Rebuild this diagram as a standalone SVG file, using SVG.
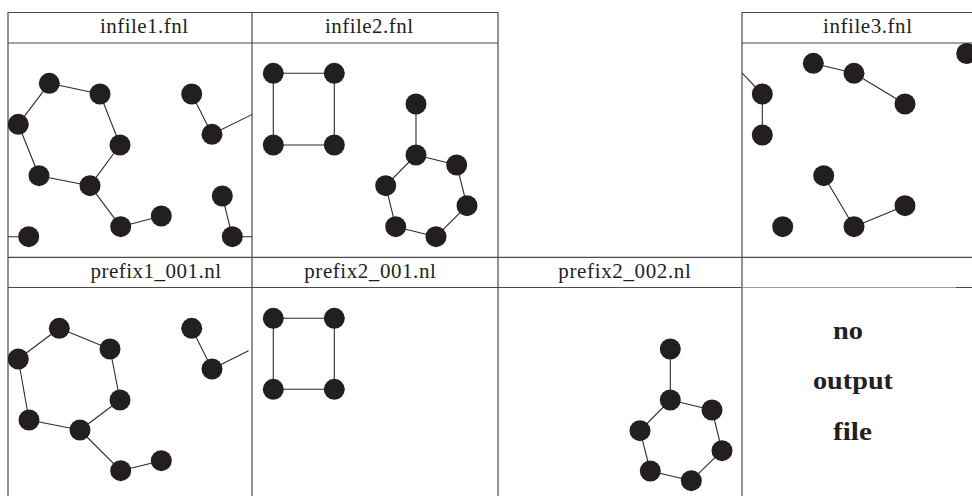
<svg xmlns="http://www.w3.org/2000/svg" width="972" height="496" viewBox="0 0 972 496">
<style>
.grid{stroke:#4a4a4a;stroke-width:1.2;fill:none}
.lgrid{stroke:#9a9a9a;stroke-width:1.2;fill:none}
.e{stroke:#2b2b2b;stroke-width:1.1;fill:none}
.n{fill:#231f20}
.h{font-family:"Liberation Serif","Times New Roman",serif;font-size:21px;fill:#231f20}
.b{font-family:"Liberation Serif","Times New Roman",serif;font-size:26px;font-weight:bold;fill:#231f20}
</style>
<defs>
<clipPath id="c11"><rect x="8" y="43" width="244" height="214"/></clipPath>
<clipPath id="c12"><rect x="252" y="43" width="246" height="214"/></clipPath>
<clipPath id="c14"><rect x="742" y="43" width="230" height="214"/></clipPath>
<clipPath id="c21"><rect x="8" y="287.5" width="244" height="209"/></clipPath>
<clipPath id="c22"><rect x="252" y="287.5" width="246" height="209"/></clipPath>
<clipPath id="c23"><rect x="498" y="287.5" width="244" height="209"/></clipPath>
</defs>
<rect width="972" height="496" fill="#fff"/>
<g id="grid">
<path class="grid" d="M8 12.5H498M742 12.5H972M8 43H498M742 43H972M8 257.3H972M8 287.5H742M956 287.5H972M8 12V496M252 12V496M498 12V496M742 12V496"/>
<path class="lgrid" d="M742 287.5H956"/>
</g>
<g id="headers">
<text class="h" x="100" y="33.3" textLength="88" lengthAdjust="spacing">infile1.fnl</text>
<text class="h" x="325" y="33.3" textLength="88" lengthAdjust="spacing">infile2.fnl</text>
<text class="h" x="823" y="33.3" textLength="89" lengthAdjust="spacing">infile3.fnl</text>
<text class="h" x="90.5" y="278.3" textLength="130.5" lengthAdjust="spacing">prefix1_001.nl</text>
<text class="h" x="304.3" y="278.3" textLength="131.5" lengthAdjust="spacing">prefix2_001.nl</text>
<text class="h" x="558.3" y="278.3" textLength="132.5" lengthAdjust="spacing">prefix2_002.nl</text>
</g>
<g id="connectors">
<g clip-path="url(#c11)">
<path class="e" d="M49.3 83.3L100 94M49.3 83.3L18.3 124.3M100 94L120 145M18.3 124.3L39 175.7M120 145L90 185.7M39 175.7L90 185.7M90 185.7L120.7 226.7M120.7 226.7L161.3 216M191.7 94L212 134.3M212 134.3L253 114M222.3 196L232.3 236.7M232.3 236.7H253M28.7 236.7H7"/>
</g>
<g clip-path="url(#c12)">
<path class="e" d="M273.3 73.3H334.3M273.3 73.3V145M334.3 73.3V145M273.3 145H334.3M416 104V155M416 155L456.7 165M416 155L385.7 185.7M456.7 165L467 205.7M385.7 185.7L395.7 226.7M467 205.7L436 236.7M395.7 226.7L436 236.7"/>
</g>
<g clip-path="url(#c14)">
<path class="e" d="M762.3 94V135M762.3 94L741 72M813.3 63.3L854 73.3M854 73.3L905 104M823.7 175.7L854 226.7M854 226.7L905 205.7"/>
</g>
<g clip-path="url(#c21)">
<path class="e" d="M59.3 328.3L110 349M59.3 328.3L18.3 359M110 349L120 400M18.3 359L29 420M120 400L80 430M29 420L80 430M80 430L120.7 470.7M120.7 470.7L161.3 460.7M191.7 328.3L212 369M212 369L248.5 350.7"/>
</g>
<g clip-path="url(#c22)">
<path class="e" d="M273.3 318.3H334.3M273.3 318.3V389.3M334.3 318.3V389.3M273.3 389.3H334.3"/>
</g>
<g clip-path="url(#c23)">
<path class="e" d="M670.3 349V400M670.3 400L712 410M670.3 400L640 430.7M712 410L722 450.7M640 430.7L650.3 471M722 450.7L691.3 480.7M650.3 471L691.3 480.7"/>
</g>
</g>
<g id="infile1" clip-path="url(#c11)">
<circle id="i1a" class="n" cx="49.3" cy="83.3" r="10.5"/>
<circle id="i1b" class="n" cx="100" cy="94" r="10.5"/>
<circle id="i1c" class="n" cx="18.3" cy="124.3" r="10.5"/>
<circle id="i1d" class="n" cx="120" cy="145" r="10.5"/>
<circle id="i1e" class="n" cx="39" cy="175.7" r="10.5"/>
<circle id="i1f" class="n" cx="90" cy="185.7" r="10.5"/>
<circle id="i1g" class="n" cx="120.7" cy="226.7" r="10.5"/>
<circle id="i1h" class="n" cx="161.3" cy="216" r="10.5"/>
<circle id="i1i" class="n" cx="28.7" cy="236.7" r="10.5"/>
<circle id="i1j" class="n" cx="191.7" cy="94" r="10.5"/>
<circle id="i1k" class="n" cx="212" cy="134.3" r="10.5"/>
<circle id="i1l" class="n" cx="222.3" cy="196" r="10.5"/>
<circle id="i1m" class="n" cx="232.3" cy="236.7" r="10.5"/>
</g>
<g id="infile2" clip-path="url(#c12)">
<circle id="i2a" class="n" cx="273.3" cy="73.3" r="10.5"/>
<circle id="i2b" class="n" cx="334.3" cy="73.3" r="10.5"/>
<circle id="i2c" class="n" cx="273.3" cy="145" r="10.5"/>
<circle id="i2d" class="n" cx="334.3" cy="145" r="10.5"/>
<circle id="i2e" class="n" cx="416" cy="104" r="10.5"/>
<circle id="i2f" class="n" cx="416" cy="155" r="10.5"/>
<circle id="i2g" class="n" cx="456.7" cy="165" r="10.5"/>
<circle id="i2h" class="n" cx="385.7" cy="185.7" r="10.5"/>
<circle id="i2i" class="n" cx="467" cy="205.7" r="10.5"/>
<circle id="i2j" class="n" cx="395.7" cy="226.7" r="10.5"/>
<circle id="i2k" class="n" cx="436" cy="236.7" r="10.5"/>
</g>
<g id="infile3" clip-path="url(#c14)">
<circle id="i3a" class="n" cx="762.3" cy="94" r="10.5"/>
<circle id="i3b" class="n" cx="762.3" cy="135" r="10.5"/>
<circle id="i3c" class="n" cx="813.3" cy="63.3" r="10.5"/>
<circle id="i3d" class="n" cx="854" cy="73.3" r="10.5"/>
<circle id="i3e" class="n" cx="905" cy="104" r="10.5"/>
<circle id="i3f" class="n" cx="966.7" cy="53.5" r="10.5"/>
<circle id="i3g" class="n" cx="823.7" cy="175.7" r="10.5"/>
<circle id="i3h" class="n" cx="854" cy="226.7" r="10.5"/>
<circle id="i3i" class="n" cx="905" cy="205.7" r="10.5"/>
<circle id="i3j" class="n" cx="782.7" cy="226.7" r="10.5"/>
</g>
<g id="prefix1_001" clip-path="url(#c21)">
<circle id="p1a" class="n" cx="59.3" cy="328.3" r="10.5"/>
<circle id="p1b" class="n" cx="110" cy="349" r="10.5"/>
<circle id="p1c" class="n" cx="18.3" cy="359" r="10.5"/>
<circle id="p1d" class="n" cx="120" cy="400" r="10.5"/>
<circle id="p1e" class="n" cx="29" cy="420" r="10.5"/>
<circle id="p1f" class="n" cx="80" cy="430" r="10.5"/>
<circle id="p1g" class="n" cx="120.7" cy="470.7" r="10.5"/>
<circle id="p1h" class="n" cx="161.3" cy="460.7" r="10.5"/>
<circle id="p1j" class="n" cx="191.7" cy="328.3" r="10.5"/>
<circle id="p1k" class="n" cx="212" cy="369" r="10.5"/>
</g>
<g id="prefix2_001" clip-path="url(#c22)">
<circle id="p2a" class="n" cx="273.3" cy="318.3" r="10.5"/>
<circle id="p2b" class="n" cx="334.3" cy="318.3" r="10.5"/>
<circle id="p2c" class="n" cx="273.3" cy="389.3" r="10.5"/>
<circle id="p2d" class="n" cx="334.3" cy="389.3" r="10.5"/>
</g>
<g id="prefix2_002" clip-path="url(#c23)">
<circle id="p3a" class="n" cx="670.3" cy="349" r="10.5"/>
<circle id="p3b" class="n" cx="670.3" cy="400" r="10.5"/>
<circle id="p3c" class="n" cx="712" cy="410" r="10.5"/>
<circle id="p3d" class="n" cx="640" cy="430.7" r="10.5"/>
<circle id="p3e" class="n" cx="722" cy="450.7" r="10.5"/>
<circle id="p3f" class="n" cx="650.3" cy="471" r="10.5"/>
<circle id="p3g" class="n" cx="691.3" cy="480.7" r="10.5"/>
</g>
<g id="no-output">
<text class="b" x="833" y="339" textLength="30" lengthAdjust="spacingAndGlyphs">no</text>
<text class="b" x="813" y="389" textLength="80" lengthAdjust="spacingAndGlyphs">output</text>
<text class="b" x="833" y="440" textLength="39" lengthAdjust="spacingAndGlyphs">file</text>
</g>
</svg>
